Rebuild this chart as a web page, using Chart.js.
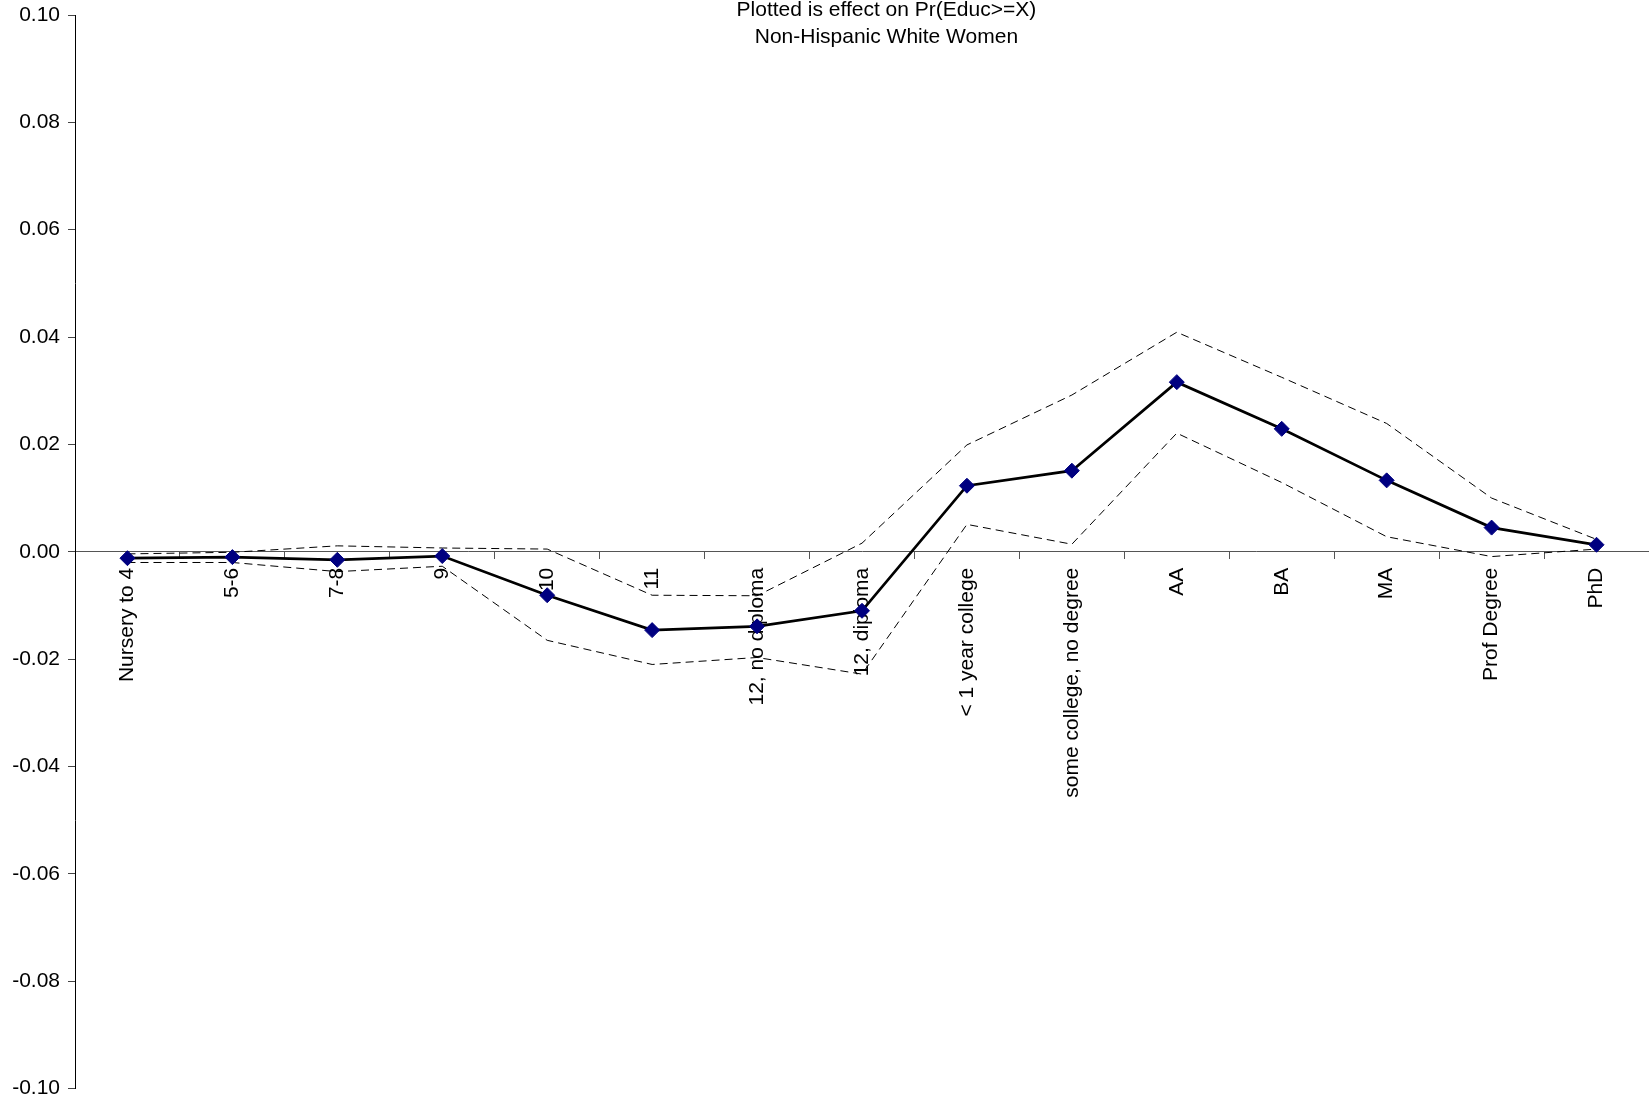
<!DOCTYPE html>
<html>
<head>
<meta charset="utf-8">
<title>Effect on Pr(Educ>=X)</title>
<script src="https://cdn.jsdelivr.net/npm/chart.js@4/dist/chart.umd.min.js"></script>
<style>
  html, body { margin: 0; padding: 0; background: #fff; }
  canvas { display: block; }
</style>
</head>
<body>
<canvas id="chart" width="1649" height="1104"></canvas>
<script>
// Education levels (category axis)
const categories = [
  "Nursery to 4", "5-6", "7-8", "9", "10", "11", "12, no diploma", "12, diploma",
  "< 1 year college", "some college, no degree", "AA", "BA", "MA", "Prof Degree", "PhD"
];

// Point estimates of the effect on Pr(Educ>=X)
const effect = [-0.0012, -0.0010, -0.0015, -0.0008, -0.0081, -0.0146, -0.0139, -0.0110,
                0.0123, 0.0151, 0.0316, 0.0229, 0.0133, 0.0045, 0.0013];

// Upper and lower confidence bounds
const upperBound = [-0.0004, -0.0001, 0.0011, 0.0007, 0.0005, -0.0081, -0.0082, 0.0016,
                    0.0199, 0.0292, 0.0409, 0.0325, 0.0239, 0.0100, 0.0023];
const lowerBound = [-0.0020, -0.0020, -0.0037, -0.0027, -0.0165, -0.0210, -0.0197, -0.0228,
                    0.0051, 0.0014, 0.0221, 0.0129, 0.0028, -0.0009, 0.0005];

// Value axis ticks
const yTicks = [-0.10, -0.08, -0.06, -0.04, -0.02, 0.00, 0.02, 0.04, 0.06, 0.08, 0.10];

// Chart heading, one entry per line
const titleLines = ["Plotted is effect on Pr(Educ>=X)", "Non-Hispanic White Women"];

const FONT = '"Liberation Sans", Arial, Helvetica, sans-serif';

// Draws the two-line heading over the top of the plot area
const headingPlugin = {
  id: 'heading',
  afterDraw(chart) {
    const ctx = chart.ctx;
    const area = chart.chartArea;
    const cx = area.left + (area.right - area.left) * 0.5155;
    ctx.save();
    ctx.fillStyle = '#000';
    ctx.font = '21px ' + FONT;
    ctx.textAlign = 'center';
    ctx.textBaseline = 'alphabetic';
    titleLines.forEach((line, i) => {
      ctx.fillText(line, cx, 16 + i * 26.5);
    });
    ctx.restore();
  }
};

// Keeps label overhang from shrinking the plot area
function noOverhang(scale) {
  scale.paddingLeft = 0;
  scale.paddingRight = 0;
  scale.paddingTop = 0;
  scale.paddingBottom = 0;
}

const dashedStyle = {
  borderColor: '#000',
  borderWidth: 1,
  borderDash: [8, 5],
  pointRadius: 0,
  pointHoverRadius: 0,
  fill: false,
  tension: 0
};

new Chart(document.getElementById('chart'), {
  type: 'line',
  data: {
    labels: categories,
    datasets: [
      {
        label: 'Effect',
        data: effect,
        borderColor: '#000',
        borderWidth: 2.75,
        pointStyle: 'rectRot',
        pointRadius: 7.5,
        pointBackgroundColor: '#000080',
        pointBorderColor: '#000080',
        pointBorderWidth: 1,
        fill: false,
        tension: 0
      },
      Object.assign({ label: 'Upper', data: upperBound }, dashedStyle),
      Object.assign({ label: 'Lower', data: lowerBound }, dashedStyle)
    ]
  },
  options: {
    responsive: false,
    animation: false,
    events: [],
    layout: { autoPadding: false, padding: { top: 15, bottom: 15.5, left: 0, right: 0 } },
    plugins: {
      legend: { display: false },
      tooltip: { enabled: false },
      title: { display: false }
    },
    scales: {
      x: {
        type: 'category',
        position: { y: 0 },
        offset: true,
        afterFit: noOverhang,
        grid: {
          display: true,
          offset: true,
          drawOnChartArea: false,
          drawTicks: true,
          tickLength: 7,
          color: '#555'
        },
        border: { display: true, color: '#555', width: 1 },
        ticks: {
          autoSkip: false,
          minRotation: 90,
          maxRotation: 90,
          padding: 9,
          color: '#000',
          font: { family: FONT, size: 21 }
        }
      },
      y: {
        type: 'linear',
        min: -0.10,
        max: 0.10,
        afterBuildTicks(scale) {
          scale.ticks = yTicks.map(v => ({ value: v }));
        },
        afterFit(scale) {
          scale.width = 75;
          noOverhang(scale);
        },
        grid: {
          display: true,
          drawOnChartArea: false,
          drawTicks: true,
          tickLength: 7,
          color: '#444'
        },
        border: { display: true, color: '#000', width: 1 },
        ticks: {
          padding: 8,
          color: '#000',
          font: { family: FONT, size: 21 },
          callback(value) {
            const v = Math.abs(value) < 1e-9 ? 0 : value;
            return v.toFixed(2);
          }
        }
      }
    }
  },
  plugins: [headingPlugin]
});
</script>
</body>
</html>
